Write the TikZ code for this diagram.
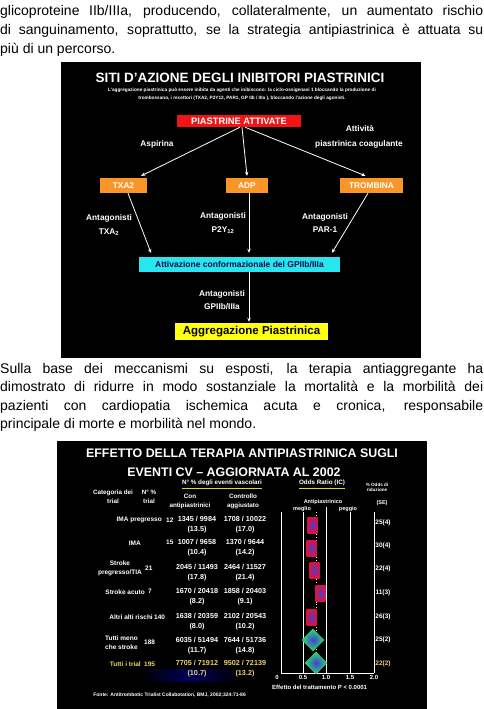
\documentclass[tikz,border=0pt]{standalone}
\usepackage{fontspec}
\setmainfont{Liberation Sans}
\usetikzlibrary{arrows.meta, positioning}

\definecolor{slidered}{RGB}{240,20,20}
\definecolor{slideorange}{RGB}{250,150,40}
\definecolor{slidecyan}{RGB}{40,230,240}
\definecolor{slideyellow}{RGB}{255,255,20}
\definecolor{navy}{RGB}{10,10,70}
\definecolor{cream}{RGB}{235,210,110}
\definecolor{ulyellow}{RGB}{220,220,40}
\definecolor{markred}{RGB}{220,20,60}
\definecolor{markblue}{RGB}{70,60,220}
\definecolor{markgreen}{RGB}{40,230,90}

\newcommand{\fsz}[2]{\fontsize{#1}{#2}\selectfont}

\begin{document}
\begin{tikzpicture}[x=1pt, y=-1pt,
  para/.style={anchor=base west, inner sep=0pt, font=\fsz{14}{19}},
  ttl/.style={text=white, font=\bfseries\fsz{13.5}{15}, inner sep=0pt},
  sub/.style={text=white, font=\bfseries\fsz{4.7}{8}, inner sep=0pt, align=center},
  redbox/.style={fill=slidered, text=white, font=\bfseries\fsz{9.3}{10}, minimum width=124pt, minimum height=12pt, inner sep=0pt},
  orbox/.style={fill=slideorange, text=white, font=\bfseries\fsz{8.3}{10}, minimum height=15pt, inner sep=0pt},
  cybox/.style={fill=slidecyan, text=navy, font=\bfseries\fsz{8.5}{9}, minimum width=201pt, minimum height=15pt, inner sep=0pt},
  ylbox/.style={fill=slideyellow, text=black, font=\bfseries\fsz{11.5}{12}, minimum width=153pt, minimum height=17pt, inner sep=0pt},
  lbl/.style={text=white, font=\bfseries\fsz{8.3}{13.5}, inner sep=0pt, align=center},
  arr/.style={white, line width=0.8pt, -{Stealth[length=4pt, width=3.5pt]}},
  ttl2/.style={text=white, font=\bfseries\fsz{12.4}{15}, inner sep=0pt},
  hdr/.style={text=white, font=\bfseries\fsz{6.3}{9}, inner sep=0pt, align=center},
  cat/.style={text=white, font=\bfseries\fsz{6.5}{9}, inner sep=0pt, align=center, anchor=east},
  num/.style={text=white, font=\bfseries\fsz{6.5}{9}, inner sep=0pt, anchor=west},
  val/.style={text=white, font=\bfseries\fsz{7.2}{10}, inner sep=0pt, align=center},
  orv/.style={text=white, font=\bfseries\fsz{6.5}{8}, inner sep=0pt},
  tick/.style={text=white, font=\bfseries\fsz{6}{7}, inner sep=0pt},
  orm/.style={minimum width=10pt, minimum height=16pt, inner sep=0pt, inner color=markblue, outer color=markred},
  dmd/.style={minimum size=16pt, inner sep=0pt, rotate=45, inner color=markblue, outer color=markgreen},
  axis/.style={white, line width=0.8pt}
]
\useasboundingbox[fill=white] (0,0) rectangle (483,709);

% text before the first slide
\node[para] (p1a) at (0,16) {\makebox[483pt][s]{glicoproteine IIb/IIIa, producendo, collateralmente, un aumentato rischio}};
\node[para] (p1b) at (0,35) {\makebox[483pt][s]{di sanguinamento, soprattutto, se la strategia antipiastrinica è attuata su}};
\node[para] (p1c) at (0,54) {più di un percorso.};

% slide 1
\fill[black] (61,62) rectangle (421,358);
\node[ttl] (t1) at (240,78) {SITI D'AZIONE DEGLI INIBITORI PIASTRINICI};
\node[sub] (s1) at (242,94) {L'aggregazione piastrinica può essere inibita da agenti che inibiscono: la ciclo-ossigenasi 1 bloccando la produzione di\\trombossano, i recettori (TXA2, P2Y12, PAR1, GP IIb / IIIa ), bloccando l'azione degli agonisti.};

\node[redbox] (pa) at (239,121) {PIASTRINE ATTIVATE};
\node[orbox, minimum width=47pt] (txa) at (123.5,185.5) {TXA2};
\node[orbox, minimum width=42pt] (adp) at (247,185.5) {ADP};
\node[orbox, minimum width=63pt] (trm) at (371.5,185.5) {TROMBINA};
\node[cybox] (cy) at (239.5,264.5) {Attivazione conformazionale del GPIIb/IIIa};
\node[ylbox] (yl) at (251.5,331.5) {Aggregazione Piastrinica};

\node[lbl] (asp) at (157,144) {Aspirina};
\node[lbl] (act1) at (360,128) {Attività};
\node[lbl] (act2) at (359,144) {piastrinica coagulante};
\node[lbl] (an1) at (109,225) {Antagonisti\\TXA\textsubscript{2}};
\node[lbl] (an2) at (223,223) {Antagonisti\\P2Y\textsubscript{12}};
\node[lbl] (an3) at (325,223) {Antagonisti\\PAR-1};
\node[lbl] (an4) at (222,300) {Antagonisti\\GPIIb/IIIa};

\draw[arr] ([xshift=1pt]pa.south) -- ([xshift=-6pt,yshift=2pt]txa.north east);
\draw[arr] ([xshift=3pt]pa.south) -- ([yshift=2pt]adp.north);
\draw[arr] ([xshift=6pt]pa.south) -- ([xshift=-6pt,yshift=2pt]trm.north);
\draw[arr] ([xshift=4.5pt]txa.south) -- ([xshift=-88.5pt,yshift=4pt]cy.north);
\draw[arr] ([xshift=2pt]adp.south) -- ([xshift=9.5pt,yshift=4pt]cy.north);
\draw[arr] ([xshift=-3.5pt]trm.south) -- ([xshift=92.5pt,yshift=4pt]cy.north);
\draw[arr] ([xshift=9.5pt]cy.south) -- ([xshift=-2.5pt,yshift=1pt]yl.north);

% text between the slides
\node[para] (p2a) at (0,373) {\makebox[483pt][s]{Sulla base dei meccanismi su esposti, la terapia antiaggregante ha}};
\node[para] (p2b) at (0,391.5) {\makebox[483pt][s]{dimostrato di ridurre in modo sostanziale la mortalità e la morbilità dei}};
\node[para] (p2c) at (0,410) {\makebox[483pt][s]{pazienti con cardiopatia ischemica acuta e cronica, responsabile}};
\node[para] (p2d) at (0,428) {principale di morte e morbilità nel mondo.};

% slide 2
\fill[black] (57,441) rectangle (427,709);
\shade[left color=black, right color=black, middle color=blue!35!black] (140,669) rectangle (240,681);
\node[ttl2] (t2a) at (242,453) {EFFETTO DELLA TERAPIA ANTIPIASTRINICA SUGLI};
\node[ttl2] (t2b) at (234,472) {EVENTI CV – AGGIORNATA AL 2002};

\node[hdr] (hev) at (222,483) {N° \% degli eventi vascolari};
\draw[ulyellow, line width=0.8pt] (hev.south west) ++(0,2) -- ([yshift=-2pt]hev.south east);
\node[hdr] (hor) at (322,483) {Odds Ratio (IC)};
\draw[ulyellow, line width=0.8pt] (hor.south west) ++(0,2) -- ([yshift=-2pt]hor.south east);
\node[hdr, font=\bfseries\fsz{4.6}{5.5}] (hrid) at (377,487.5) {\% Odds di\\riduzione};
\node[hdr, font=\bfseries\fsz{5.5}{7}] (hse) at (382,503) {(SE)};
\node[hdr] (hcat) at (113,497) {Categoria dei\\trial};
\node[hdr] (hn) at (149,497) {N° \%\\trial};
\node[hdr] (hcon) at (190,501.5) {Con\\antipiastrinici};
\node[hdr] (hctl) at (243,501.5) {Controllo\\aggiustato};
\node[hdr, font=\bfseries\fsz{5.5}{7}] (hap) at (323,502) {Antipiastrinico};
\node[hdr, font=\bfseries\fsz{5.5}{7}] (hmeg) at (302,509) {meglio};
\node[hdr, font=\bfseries\fsz{5.5}{7}] (hpeg) at (348,509) {peggio};

% rows
\node[cat] (c1) at (162,520) {IMA pregresso};
\node[num] (n1) at (166,520) {12};
\node[val] (a1) at (197,525) {1345 / 9984\\(13.5)};
\node[val] (b1) at (245,525) {1708 / 10022\\(17.0)};
\node[cat] (c2) at (141,543) {IMA};
\node[num] (n2) at (166,542) {15};
\node[val] (a2) at (197,548) {1007 / 9658\\(10.4)};
\node[val] (b2) at (245,548) {1370 / 9644\\(14.2)};
\node[cat] (c3) at (142,568) {Stroke\\pregresso/TIA};
\node[num] (n3) at (145,568) {21};
\node[val] (a3) at (197,572.5) {2045 / 11493\\(17.8)};
\node[val] (b3) at (245,572.5) {2464 / 11527\\(21.4)};
\node[cat] (c4) at (145,592) {Stroke acuto};
\node[num] (n4) at (148,591) {7};
\node[val] (a4) at (197,597) {1670 / 20418\\(8.2)};
\node[val] (b4) at (245,597) {1858 / 20403\\(9.1)};
\node[cat] (c5) at (153,617) {Altri alti rischi};
\node[num] (n5) at (154,617) {140};
\node[val] (a5) at (197,621.5) {1638 / 20359\\(8.0)};
\node[val] (b5) at (245,621.5) {2102 / 20543\\(10.2)};
\node[cat] (c6) at (138,643) {Tutti meno\\che stroke};
\node[num] (n6) at (144,642) {188};
\node[val] (a6) at (197,645.5) {6035 / 51494\\(11.7)};
\node[val] (b6) at (245,645.5) {7644 / 51736\\(14.8)};
\node[cat, text=cream] (c7) at (141,664) {Tutti i trial};
\node[num, text=cream] (n7) at (144,664) {195};
\node[val, text=cream] (a7) at (197,669) {7705 / 71912\\(10.7)};
\node[val, text=cream] (b7) at (245,669) {9502 / 72139\\(13.2)};

% forest plot
\draw[axis] (281,512) -- (281,673) -- (374,673);
\draw[axis] (303,512) -- (303,673);
\draw[axis] (326,507) -- (326,673);
\draw[axis] (350,512) -- (350,673);
\draw[axis] (374,512) -- (374,673);
\draw[white, dotted, line width=0.8pt] (316.5,512) -- (316.5,660);

\node[orm] (m1) at (312.5,525) {};
\node[orm] (m2) at (311.5,548) {};
\node[orm] (m3) at (314.5,570) {};
\node[orm] (m4) at (320.5,593) {};
\node[orm] (m5) at (311.5,617) {};
\node[dmd] (m6) at (313,640) {};
\node[dmd] (m7) at (316,663) {};

\node[orv] (r1) at (383,523) {25(4)};
\node[orv] (r2) at (383,546) {30(4)};
\node[orv] (r3) at (383,569) {22(4)};
\node[orv] (r4) at (383,593) {11(3)};
\node[orv] (r5) at (383,617) {26(3)};
\node[orv] (r6) at (383,640) {25(2)};
\node[orv, text=cream] (r7) at (383,664) {22(2)};

\node[tick] (x0) at (277,677) {0};
\node[tick] (x1) at (303,677) {0.5};
\node[tick] (x2) at (326,677) {1.0};
\node[tick] (x3) at (350,677) {1.5};
\node[tick] (x4) at (374,677) {2.0};
\node[tick, anchor=west] (eff) at (272,687) {Effetto del trattamento P < 0.0001};
\node[tick, font=\bfseries\fsz{5}{6}, anchor=east] (src) at (246,695) {Fonte: Antitrombotic Trialist Collabotation, BMJ, 2002;324:71-86};
\end{tikzpicture}
\end{document}
